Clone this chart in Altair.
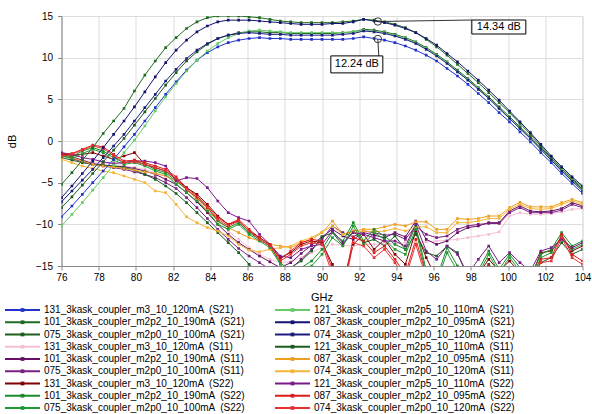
import altair as alt
import pandas as pd

# ---------------- data ----------------
FREQ = [76.00, 76.56, 77.12, 77.68, 78.24, 78.80, 79.36, 79.92, 80.48, 81.04,
        81.60, 82.16, 82.72, 83.28, 83.84, 84.40, 84.96, 85.52, 86.08, 86.64,
        87.20, 87.76, 88.32, 88.88, 89.44, 90.00, 90.56, 91.12, 91.68, 92.24,
        92.80, 93.36, 93.92, 94.48, 95.04, 95.60, 96.16, 96.72, 97.28, 97.84,
        98.40, 98.96, 99.52, 100.08, 100.64, 101.20, 101.76, 102.32, 102.88, 103.44,
        104.00]

S21_131 = [-9.1, -7.8, -6.4, -5.0, -3.6, -2.2, -0.7, 0.8, 2.4, 4.0, 5.6, 7.1, 8.5, 9.7, 10.6, 11.3, 11.8, 12.1, 12.3, 12.4,
           12.3, 12.3, 12.2, 12.2, 12.2, 12.2, 12.2, 12.2, 12.3, 12.5, 12.3, 12.1, 11.8, 11.4, 10.9, 10.3, 9.6, 8.7, 7.8, 6.8,
           5.7, 4.6, 3.4, 2.3, 1.1, -0.1, -1.4, -2.6, -3.9, -5.1, -6.3]
S21_101 = [-5.2, -3.8, -2.3, -0.8, 0.9, 2.4, 3.9, 6.0, 7.9, 9.6, 11.2, 12.4, 13.5, 14.3, 14.8, 15.0, 15.0, 15.0, 14.9, 14.8,
           14.6, 14.4, 14.3, 14.2, 14.2, 14.2, 14.2, 14.3, 14.4, 14.6, 14.5, 14.3, 14.0, 13.6, 13.0, 12.2, 11.3, 10.3, 9.2, 8.1,
           7.0, 5.8, 4.6, 3.4, 2.1, 0.8, -0.6, -2.0, -3.3, -4.5, -5.6]
S21_075 = [-8.0, -6.7, -5.3, -3.9, -2.5, -1.1, 0.3, 1.9, 3.5, 5.1, 6.7, 8.2, 9.6, 10.7, 11.6, 12.3, 12.7, 13.0, 13.1, 13.1,
           13.0, 13.0, 12.9, 12.9, 12.9, 12.9, 12.9, 13.0, 13.1, 13.4, 13.3, 13.1, 12.8, 12.4, 11.9, 11.2, 10.4, 9.5, 8.5, 7.5,
           6.4, 5.3, 4.1, 2.9, 1.7, 0.5, -0.8, -2.1, -3.4, -4.6, -5.8]
S21_121 = [-10.2, -8.8, -7.4, -5.9, -4.4, -2.9, -1.4, 0.1, 1.8, 3.6, 5.3, 6.9, 8.4, 9.7, 10.8, 11.7, 12.4, 12.9, 13.2, 13.3,
           13.2, 13.1, 13.0, 13.0, 13.0, 13.0, 13.0, 13.0, 13.1, 13.3, 13.2, 13.0, 12.7, 12.3, 11.8, 11.1, 10.3, 9.4, 8.4, 7.4,
           6.3, 5.1, 3.9, 2.7, 1.5, 0.3, -1.0, -2.3, -3.5, -4.7, -5.9]
S21_087 = [-6.8, -5.4, -3.9, -2.4, -0.8, 0.8, 2.4, 4.1, 5.9, 7.7, 9.4, 10.9, 12.1, 13.1, 13.8, 14.3, 14.5, 14.5, 14.5, 14.4,
           14.3, 14.2, 14.1, 14.0, 14.0, 14.0, 14.1, 14.1, 14.3, 14.6, 14.4, 14.2, 13.9, 13.5, 13.0, 12.3, 11.5, 10.5, 9.5, 8.4,
           7.3, 6.1, 4.9, 3.6, 2.3, 1.0, -0.4, -1.8, -3.1, -4.3, -5.4]
S21_074 = [-7.3, -6.0, -4.7, -3.4, -2.0, -0.6, 0.8, 2.4, 4.0, 5.6, 7.2, 8.6, 9.9, 10.9, 11.7, 12.3, 12.7, 12.9, 13.0, 12.9,
           12.8, 12.8, 12.7, 12.7, 12.7, 12.7, 12.7, 12.8, 12.9, 13.2, 13.1, 12.9, 12.6, 12.2, 11.7, 11.0, 10.2, 9.3, 8.3, 7.3,
           6.2, 5.1, 3.9, 2.7, 1.5, 0.3, -1.0, -2.3, -3.6, -4.8, -6.0]

S11_131 = [-1.8, -2.0, -2.3, -2.5, -2.6, -2.8, -3.0, -3.2, -3.4, -3.8, -4.2, -4.8, -5.8, -6.8, -8.0, -9.5, -10.8, -11.8, -12.8, -13.6,
           -14.2, -14.6, -14.5, -14.0, -13.4, -12.8, -12.4, -12.5, -12.6, -12.4, -12.4, -12.3, -12.3, -12.2, -12.2, -12.1, -12.0, -11.9, -11.8, -11.6,
           -11.4, -11.2, -10.9, -9.0, -8.6, -8.8, -8.8, -8.7, -8.5, -8.2, -8.1]
S11_101 = [-1.5, -1.9, -2.3, -2.7, -2.9, -3.0, -3.1, -3.3, -3.6, -4.0, -4.6, -5.2, -6.2, -7.3, -8.6, -10.0, -11.2, -12.2, -13.0, -13.8,
           -14.5, -15.2, -14.6, -13.5, -12.5, -11.5, -10.6, -11.4, -11.8, -11.0, -11.3, -11.6, -11.0, -11.5, -9.6, -11.8, -12.4, -12.0, -11.0, -10.4,
           -10.2, -9.8, -9.8, -8.4, -7.8, -8.4, -8.5, -8.4, -8.1, -7.4, -7.8]
S11_075 = [-1.7, -2.1, -2.5, -2.8, -3.0, -3.2, -3.4, -3.7, -4.0, -4.4, -5.0, -5.7, -6.8, -8.0, -9.3, -10.6, -11.8, -12.9, -13.8, -14.6,
           -15.4, -16.0, -15.3, -14.2, -13.0, -11.8, -10.2, -11.0, -11.5, -10.8, -11.0, -11.3, -11.2, -11.8, -10.2, -11.2, -11.6, -11.4, -10.6, -10.2,
           -10.0, -9.9, -9.9, -8.6, -8.0, -8.6, -8.6, -8.6, -8.3, -7.6, -8.0]
S11_121 = [-2.0, -2.3, -2.6, -2.8, -2.9, -3.0, -3.2, -3.5, -4.0, -4.6, -5.4, -6.3, -7.4, -8.6, -9.8, -11.0, -12.2, -13.4, -14.8, -16.0,
           -16.5, -16.0, -15.2, -14.4, -13.2, -11.5, -11.0, -12.5, -10.8, -12.2, -11.8, -12.6, -11.4, -13.0, -11.2, -13.4, -13.8, -12.6, -13.4, -16.5,
           -16.0, -14.8, -16.0, -15.5, -16.0, -16.5, -14.6, -14.0, -12.2, -13.6, -13.0]
S11_087 = [-1.6, -2.0, -2.4, -2.8, -3.0, -3.1, -3.3, -3.5, -3.7, -3.9, -4.2, -4.8, -5.8, -7.0, -8.3, -9.6, -10.4, -11.0, -11.6, -12.0,
           -12.4, -12.6, -12.8, -12.2, -11.8, -11.0, -9.6, -11.2, -10.8, -10.6, -10.6, -10.3, -10.0, -10.2, -9.7, -9.7, -10.6, -10.6, -9.3, -9.4,
           -9.3, -9.0, -9.0, -8.0, -7.35, -7.9, -7.9, -7.9, -7.4, -7.0, -7.4]
S11_074 = [-2.2, -2.6, -3.0, -3.3, -3.6, -3.8, -4.2, -4.6, -5.0, -6.0, -6.2, -7.6, -9.1, -9.8, -10.4, -10.8, -11.4, -12.4, -13.1, -13.3,
           -13.0, -12.8, -12.6, -12.0, -11.6, -10.9, -10.2, -11.2, -11.0, -10.8, -10.9, -10.8, -10.5, -10.8, -10.3, -10.3, -11.0, -11.0, -9.8, -9.8,
           -9.6, -9.3, -9.3, -8.2, -7.6, -8.1, -8.2, -8.1, -7.6, -7.2, -7.6]

S22_131 = [-1.5, -1.7, -1.6, -1.4, -1.8, -2.2, -1.8, -1.4, -2.8, -3.2, -3.6, -4.6, -5.6, -6.4, -7.6, -9.0, -10.0, -9.6, -10.8, -11.6,
           -12.4, -14.0, -13.4, -12.4, -12.0, -12.2, -14.8, -17.0, -12.4, -11.2, -13.0, -11.8, -13.6, -14.8, -10.8, -14.0, -16.5, -17.0, -16.0, -17.0,
           -16.0, -14.2, -15.6, -14.4, -15.8, -16.5, -13.4, -13.2, -11.6, -13.2, -12.6]
S22_101 = [-1.6, -1.9, -1.2, -0.8, -1.2, -2.0, -2.6, -2.4, -2.8, -3.4, -3.8, -4.8, -5.8, -6.8, -8.0, -9.6, -10.4, -9.8, -11.0, -11.8,
           -12.6, -14.6, -15.6, -15.2, -14.4, -13.0, -11.0, -12.0, -9.8, -12.0, -10.6, -11.4, -12.4, -13.0, -10.2, -15.5, -16.5, -12.8, -15.0, -17.0,
           -15.5, -13.2, -15.4, -13.6, -15.2, -16.5, -13.6, -13.0, -11.0, -12.6, -12.0]
S22_075 = [-1.8, -2.1, -1.5, -1.0, -1.4, -2.3, -2.8, -2.6, -3.0, -3.6, -4.0, -5.2, -6.2, -7.2, -8.4, -10.0, -10.6, -10.0, -11.2, -12.0,
           -12.8, -14.8, -16.0, -15.8, -15.0, -13.6, -11.6, -12.6, -10.2, -12.4, -11.0, -11.8, -13.0, -13.6, -10.6, -16.0, -17.0, -13.4, -15.6, -17.5,
           -16.0, -13.6, -15.8, -14.0, -15.6, -17.0, -14.0, -13.4, -11.4, -13.0, -12.4]
S22_121 = [-1.4, -1.6, -2.0, -2.2, -2.5, -2.7, -2.6, -2.4, -2.4, -2.6, -3.0, -4.8, -4.4, -4.5, -5.6, -7.2, -8.6, -9.2, -9.6, -11.2,
           -12.4, -13.8, -14.0, -13.0, -12.6, -12.4, -10.8, -12.2, -11.0, -11.2, -11.6, -12.0, -12.0, -12.6, -10.0, -13.2, -14.2, -12.6, -13.6, -16.0,
           -14.2, -12.6, -14.6, -13.4, -14.6, -15.6, -13.2, -12.8, -11.8, -12.8, -12.2]
S22_087 = [-1.6, -1.5, -1.0, -0.5, -0.7, -1.6, -2.4, -2.3, -2.6, -3.0, -3.4, -4.3, -5.6, -6.6, -7.8, -9.2, -10.0, -9.4, -10.6, -11.6,
           -12.4, -14.2, -13.2, -12.2, -11.8, -12.0, -15.4, -18.0, -11.6, -12.0, -13.4, -12.6, -14.2, -16.0, -11.8, -16.0, -17.0, -17.5, -17.0, -18.0,
           -17.0, -15.0, -15.8, -15.4, -16.5, -16.5, -14.2, -14.0, -11.2, -13.6, -14.4]
S22_074 = [-1.8, -1.6, -1.1, -0.6, -0.9, -1.8, -2.6, -2.5, -2.8, -3.2, -3.6, -4.5, -5.8, -6.8, -8.0, -9.4, -10.2, -9.6, -10.8, -11.8,
           -12.6, -14.4, -13.6, -12.6, -12.2, -12.4, -16.0, -18.5, -12.2, -12.6, -14.0, -13.0, -14.6, -16.5, -12.4, -16.5, -17.5, -18.0, -17.5, -18.5,
           -17.5, -15.6, -16.2, -16.0, -17.0, -17.0, -14.6, -14.4, -11.6, -14.0, -14.8]

NAMES = [
    "131_3kask_coupler_m3_10_120mA  (S21)", "101_3kask_coupler_m2p2_10_190mA  (S21)", "075_3kask_coupler_m2p0_10_100mA  (S21)",
    "121_3kask_coupler_m2p5_10_110mA  (S21)", "087_3kask_coupler_m2p2_10_095mA  (S21)", "074_3kask_coupler_m2p0_10_120mA  (S21)",
    "131_3kask_coupler_m3_10_120mA  (S11)", "101_3kask_coupler_m2p2_10_190mA  (S11)", "075_3kask_coupler_m2p0_10_100mA  (S11)",
    "121_3kask_coupler_m2p5_10_110mA  (S11)", "087_3kask_coupler_m2p2_10_095mA  (S11)", "074_3kask_coupler_m2p0_10_120mA  (S11)",
    "131_3kask_coupler_m3_10_120mA  (S22)", "101_3kask_coupler_m2p2_10_190mA  (S22)", "075_3kask_coupler_m2p0_10_100mA  (S22)",
    "121_3kask_coupler_m2p5_10_110mA  (S22)", "087_3kask_coupler_m2p2_10_095mA  (S22)", "074_3kask_coupler_m2p0_10_120mA  (S22)",
]
VALUES = [S21_131, S21_101, S21_075, S21_121, S21_087, S21_074,
          S11_131, S11_101, S11_075, S11_121, S11_087, S11_074,
          S22_131, S22_101, S22_075, S22_121, S22_087, S22_074]
COLORS = ["#2233cc", "#1f6b1f", "#1d5e1d", "#66cc66", "#14146e", "#1c1c80",
          "#f5c0d5", "#661166", "#7a2080", "#1b5e20", "#f0a020", "#f5b53a",
          "#800000", "#1a8c2a", "#229933", "#7b1a8a", "#e01b1b", "#e83232"]
LEG_COL = [0, 0, 0, 1, 1, 1, 0, 0, 0, 1, 1, 1, 0, 0, 0, 1, 1, 1]
LEG_ROW = [0, 1, 2, 0, 1, 2, 3, 4, 5, 3, 4, 5, 6, 7, 8, 6, 7, 8]

XTICKS = [76, 78, 80, 82, 84, 86, 88, 90, 92, 94, 96, 98, 100, 102, 104]
YTICKS = [-15, -10, -5, 0, 5, 10, 15]

MARK_F = [93.0, 93.0]
MARK_DB = [14.34, 12.24]
MARK_TEXT = ["14.34 dB", "12.24 dB"]

FONT = "Liberation Sans"

# ---------------- tables ----------------
rows = []
draw_order = list(range(6, 18)) + list(range(0, 6))
for k in draw_order:
    for f, v in zip(FREQ, VALUES[k]):
        rows.append({"series": NAMES[k], "freq": f, "db": v, "ord": draw_order.index(k)})
df = pd.DataFrame(rows)

leg = pd.DataFrame({
    "series": NAMES,
    "label": [n.replace("  ", " \u00a0") for n in NAMES],
    "col": LEG_COL,
    "row": LEG_ROW,
})

ann1 = pd.DataFrame({"freq": [MARK_F[0]], "db": [MARK_DB[0]], "t": [MARK_TEXT[0]]})
ann2 = pd.DataFrame({"freq": [MARK_F[1]], "db": [MARK_DB[1]], "t": [MARK_TEXT[1]]})

# ---------------- encodings ----------------
xs = alt.Scale(domain=[76, 104], nice=False, zero=False)
ys = alt.Scale(domain=[-15, 15], nice=False, zero=False)
X = alt.X("freq:Q", scale=xs, axis=alt.Axis(values=XTICKS, title="GHz", titleX=260, titleY=31,
                                            titleBaseline="middle", titleFontWeight="normal",
                                            tickSize=4, labelPadding=2, labelFlush=False))
Y = alt.Y("db:Q", scale=ys, axis=alt.Axis(values=YTICKS, title="dB", titleX=-49, titleY=125,
                                          titleAlign="center", titleBaseline="middle",
                                          titleFontWeight="normal", tickSize=4,
                                          labelPadding=5, labelFlush=False))
C = alt.Color("series:N", scale=alt.Scale(domain=NAMES, range=COLORS), legend=None)

lines = alt.Chart(df).mark_line(strokeWidth=1, clip=True).encode(x=X, y=Y, color=C, detail="ord:N")
squares = alt.Chart(df).mark_square(size=7, opacity=1, clip=True).encode(x=X, y=Y, color=C)

def annotation(d, dx, dy, w, h, lx, ly):
    circ = alt.Chart(d).mark_point(shape="circle", size=55, filled=False, color="#333333",
                                   strokeWidth=1, opacity=1).encode(x=X, y=Y)
    lead = alt.Chart(d).mark_rule(color="#333333", strokeWidth=1, x2Offset=lx, y2Offset=ly).encode(
        x=X, x2="freq:Q", y=Y, y2="db:Q")
    box = alt.Chart(d).mark_point(shape=f"M{-w/2},{-h/2}H{w/2}V{h/2}H{-w/2}Z", size=4, filled=True,
                                  fill="white", stroke="black", strokeWidth=1, opacity=1,
                                  xOffset=dx, yOffset=dy).encode(x=X, y=Y)
    txt = alt.Chart(d).mark_text(dx=dx, dy=dy, font=FONT, fontSize=11, color="black",
                                 align="center", baseline="middle").encode(x=X, y=Y, text="t:N")
    return [circ, lead, box, txt]

main = alt.layer(lines, squares, *annotation(ann1, 121, 5.5, 54, 14, 94, -1.5),
                 *annotation(ann2, -21, 25.4, 52, 17, 1, 17))

LX = alt.X("col:Q", scale=alt.Scale(domain=[0, 1], range=[-56.5, 213.5], nice=False, zero=False), axis=None)
LY = alt.Y("row:Q", scale=alt.Scale(domain=[0, 8], range=[294, 392], nice=False, zero=False), axis=None)
leg_line = alt.Chart(leg).mark_rule(strokeWidth=2, x2Offset=35).encode(x=LX, x2="col:Q", y=LY, color=C)
leg_sq = alt.Chart(leg).mark_square(size=14, opacity=1, xOffset=17.5).encode(x=LX, y=LY, color=C)
leg_txt = alt.Chart(leg).mark_text(dx=39, align="left", baseline="middle", font=FONT, fontSize=10,
                                   color="black").encode(x=LX, y=LY, text="label:N")
legend = alt.layer(leg_line, leg_sq, leg_txt)

chart = alt.layer(main, legend).resolve_scale(x="independent", y="independent").properties(
    width=521, height=250,
    autosize=alt.AutoSizeParams(type="none"),
    padding={"left": 61.5, "top": 16, "right": 9.5, "bottom": 148},
).configure_view(stroke="#555555", strokeWidth=1).configure_axis(
    grid=True, gridColor="#d4d4d4", gridWidth=1, domainColor="black", tickColor="black",
    labelColor="black", labelFont=FONT, labelFontSize=11, titleFont=FONT, titleFontSize=11,
    titleFontWeight="normal", titleColor="black",
).configure(background="white")

chart.save("out.html", embed_options={"renderer": "svg", "actions": False})
